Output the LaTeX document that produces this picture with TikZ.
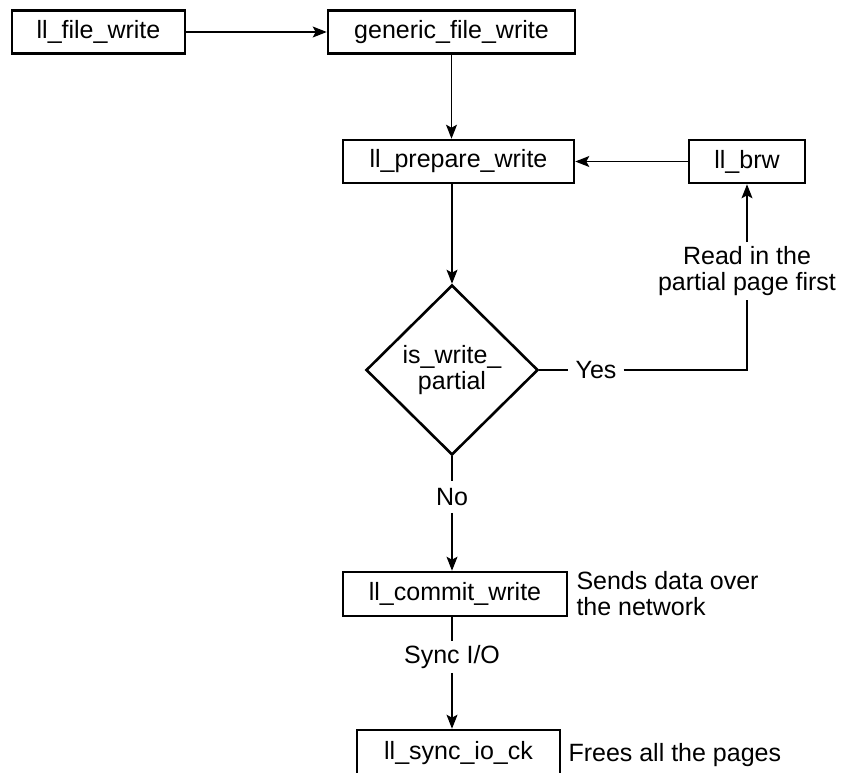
\documentclass[tikz,border=0pt]{standalone}
\usepackage{fontspec}
\setmainfont{Liberation Sans}
\usetikzlibrary{arrows.meta,positioning,shapes.geometric}

\begin{document}
\begin{tikzpicture}[
  x=1pt, y=-1pt,
  font=\fontsize{25}{26}\selectfont,
  block/.style={draw,line width=2.6pt,minimum height=43pt,inner sep=0pt},
  decision/.style={draw,diamond,line width=2.6pt,minimum width=172pt,minimum height=170pt,inner sep=0pt,align=center},
  arrow/.style={-{Stealth[length=14pt,width=11pt,inset=3pt]},line width=1.4pt},
  link/.style={line width=1.4pt},
  note/.style={align=left,inner sep=0pt},
  tag/.style={inner sep=7pt,align=center}
]
\useasboundingbox (0,0) rectangle (850,772);
\clip (0,0) rectangle (850,772);

\node[block,minimum width=173pt] (filewrite) at (98.5,32) {ll\_file\_write};
\node[block,minimum width=247pt] (generic) at (451.5,32) {generic\_file\_write};
\node[block,minimum width=231pt] (prepare) at (458.5,161.5) {ll\_prepare\_write};
\node[block,minimum width=116pt] (brw) at (747,161.5) {ll\_brw};
\node[decision] (partial) at (452,370) {is\_write\_\\partial};
\node[block,minimum width=224pt,minimum height=44pt] (commit) at (455,594) {ll\_commit\_write};
\node[block,minimum width=203pt,minimum height=47pt] (syncio) at (458.5,753.5) {ll\_sync\_io\_ck};

% labels on the connectors
\node[tag] (yes) at (596,370) {Yes};
\node[tag,inner sep=4pt] (readin) at (747,271) {Read in the\\partial page first};
\node[tag] (no) at (452,497) {No};
\node[tag,inner sep=4pt] (syncmode) at (452,657) {Sync I/O};

% side notes
\node[note, right=8pt of commit] (sendnote) {Sends data over\\the network};
\node[note, right=7pt of syncio, yshift=-2pt] (freenote) {Frees all the pages};

\draw[arrow] (filewrite) -- (generic);
\draw[arrow] (generic.south) -- (generic.south |- prepare.north);
\draw[arrow] (brw) -- (prepare);
\draw[arrow] (prepare.south -| partial.north) -- (partial.north);
\draw[link] (partial.east) -- (yes);
\draw[link] (yes) -| (readin);
\draw[arrow] (readin) -- (brw);
\draw[link] (partial.south) -- (no);
\draw[arrow] (no) -- (no |- commit.north);
\draw[link] (commit.south -| syncmode) -- (syncmode);
\draw[arrow] (syncmode) -- (syncmode |- syncio.north);
\end{tikzpicture}
\end{document}
